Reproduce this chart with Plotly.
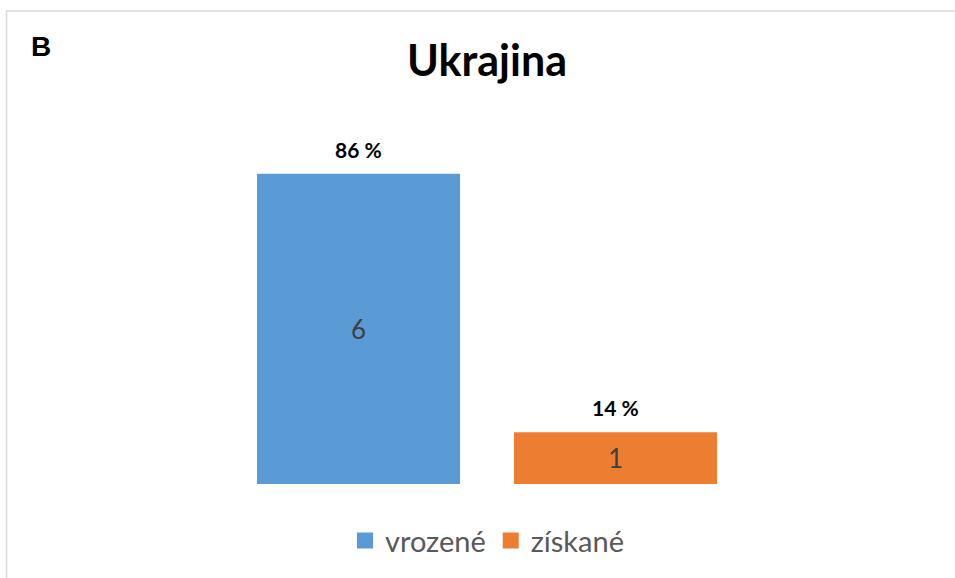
import plotly.graph_objects as go

series = ["vrozené", "získané"]
counts = [6, 1]
percent_labels = ["86 %", "14 %"]
colors = ["#5B9BD5", "#ED7D31"]
title_text = "Ukrajina"
panel_label = "B"

W, H = 955, 578
L, R, T, B = 230, 211, 122, 92
PW, PH = W - L - R, H - T - B


def px_x(x):
    return (x - L) / PW


def px_y(y):
    return (H - B - y) / PH


fig = go.Figure()
for i, (name, val, col) in enumerate(zip(series, counts, colors)):
    fig.add_trace(go.Bar(
        x=[i], y=[val], name=name, width=0.79, showlegend=False,
        marker=dict(color=col, line=dict(width=0)),
        text=[str(val)], textposition="inside", insidetextanchor="middle",
        textfont=dict(family="Lato", size=26, color="#404040"),
        hoverinfo="skip",
    ))
    fig.add_annotation(x=i, y=val, text="<b>%s</b>" % percent_labels[i],
                       showarrow=False, yanchor="bottom", yshift=10,
                       font=dict(family="Lato", size=21, color="#000000"))
    # legend proxy
    fig.add_trace(go.Scatter(
        x=[None], y=[None], mode="markers", name=name,
        marker=dict(symbol="square", size=17, color=col),
        hoverinfo="skip",
    ))

fig.add_annotation(xref="paper", yref="paper", x=px_x(41), y=px_y(46),
                   text="<b>%s</b>" % panel_label, showarrow=False,
                   xanchor="center", yanchor="middle",
                   font=dict(family="Liberation Sans", size=28, color="#000000"))

# chart border (top and left visible)
fig.add_shape(type="line", xref="paper", yref="paper",
              x0=px_x(6), x1=px_x(960), y0=px_y(10.5), y1=px_y(10.5),
              line=dict(color="#D9D9D9", width=1.5))
fig.add_shape(type="line", xref="paper", yref="paper",
              x0=px_x(6.5), x1=px_x(6.5), y0=px_y(10), y1=px_y(590),
              line=dict(color="#D9D9D9", width=1.5))

fig.update_layout(
    width=W, height=H,
    margin=dict(l=L, r=R, t=T, b=B),
    paper_bgcolor="white", plot_bgcolor="white",
    title=dict(text="<b>%s</b>" % title_text, x=487 / W, xanchor="center",
               y=1 - 61 / H, yanchor="middle",
               font=dict(family="Lato", size=43, color="#000000")),
    xaxis=dict(range=[-0.5, 1.5], visible=False, fixedrange=True),
    yaxis=dict(range=[0, 7], visible=False, fixedrange=True),
    barmode="overlay",
    showlegend=True,
    legend=dict(orientation="h", x=0.5, xanchor="center",
                y=px_y(543), yanchor="middle",
                font=dict(family="Lato", size=29, color="#595959"),
                itemsizing="trace", bgcolor="rgba(0,0,0,0)"),
)

fig.write_html("out.html", config={"displayModeBar": False},
               post_script="document.body.style.margin='0';document.body.style.overflow='hidden';")
